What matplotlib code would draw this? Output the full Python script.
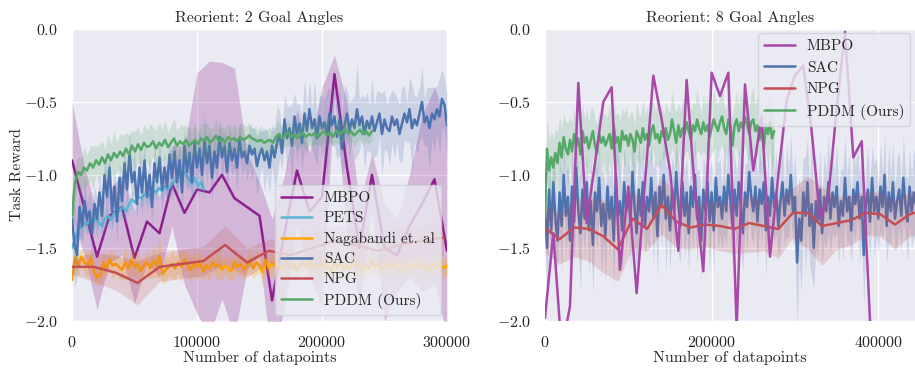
import numpy as np
import matplotlib
matplotlib.use("Agg")
import matplotlib.pyplot as plt
import seaborn as sns

sns.set_theme(style="darkgrid")
plt.rcParams['font.family'] = ['serif']
plt.rcParams['font.serif'] = ['cmr10', 'DejaVu Serif']
plt.rcParams['mathtext.fontset'] = 'cm'
plt.rcParams['axes.formatter.use_mathtext'] = True

# ---------------- Left panel: Reorient 2 goal angles ----------------
L_mbpo_step = 10000
L_mbpo = [-0.90, -1.23, -1.56, -1.28, -1.22, -1.57, -1.32, -1.40, -1.06, -1.26,
          -1.10, -1.12, -1.00, -1.16, -1.22, -1.28, -1.86, -1.40, -0.97, -1.25,
          -1.15, -0.31, -0.95, -1.50, -1.00, -1.50, -1.55, -1.35, -1.20, -1.03, -1.52]
L_mbpo_hi = [-0.50, -0.95, -1.25, -1.10, -1.00, -1.25, -1.05, -1.15, -0.80, -0.80,
             -0.30, -0.22, -0.23, -0.27, -0.85, -1.05, -1.30, -1.00, -0.55, -0.85,
             -0.40, -0.18, -0.50, -1.20, -0.85, -1.20, -1.30, -1.00, -0.60, -0.40, -0.65]
L_mbpo_lo = [-1.30, -1.55, -1.92, -1.60, -1.55, -1.88, -1.60, -1.70, -1.35, -1.75,
             -1.95, -2.10, -1.85, -2.10, -1.65, -1.55, -2.30, -1.90, -1.35, -1.70,
             -1.90, -0.45, -1.40, -1.90, -1.25, -2.00, -1.80, -1.70, -1.80, -1.75, -2.10]

L_pets_step = 2400
L_pets = [-1.50, -1.44, -1.38, -1.36, -1.33, -1.34, -1.30, -1.32, -1.29, -1.33,
          -1.35, -1.30, -1.28, -1.31, -1.26, -1.27, -1.24, -1.22, -1.25, -1.20,
          -1.17, -1.19, -1.15, -1.16, -1.14, -1.12, -1.15, -1.10, -1.12, -1.09,
          -1.11, -1.08, -1.10, -1.07, -1.05, -1.02, -0.99, -0.97, -1.00, -1.03,
          -1.06, -1.02, -1.08, -1.05, -1.10]
L_pets_std = [0.08, 0.07, 0.06, 0.08, 0.05, 0.07, 0.06, 0.09, 0.05, 0.07,
              0.06, 0.08, 0.05, 0.07, 0.06, 0.05, 0.07, 0.06, 0.08, 0.05,
              0.06, 0.07, 0.05, 0.06, 0.08, 0.05, 0.06, 0.07, 0.05, 0.06,
              0.07, 0.05, 0.06, 0.08, 0.05, 0.07, 0.06, 0.09, 0.07, 0.06,
              0.08, 0.06, 0.07, 0.05, 0.06]

L_naga_step = 2500
L_naga = [-1.72, -1.56, -1.62, -1.56, -1.60, -1.62, -1.57, -1.66, -1.70, -1.69,
          -1.60, -1.64, -1.58, -1.62, -1.61, -1.63, -1.65, -1.60, -1.64, -1.58,
          -1.63, -1.61, -1.66, -1.62, -1.60, -1.64, -1.59, -1.62, -1.56, -1.68,
          -1.65, -1.63, -1.61, -1.64, -1.60, -1.63, -1.58, -1.62, -1.65, -1.61,
          -1.63, -1.60, -1.66, -1.62, -1.64, -1.60, -1.63, -1.61, -1.65, -1.62,
          -1.64, -1.66, -1.60, -1.63, -1.61, -1.65, -1.62, -1.59, -1.64, -1.60,
          -1.62, -1.67, -1.58, -1.64, -1.60, -1.63, -1.61, -1.65, -1.62, -1.60,
          -1.64, -1.61, -1.66, -1.62, -1.60, -1.63, -1.59, -1.65, -1.61, -1.63,
          -1.60, -1.64, -1.62, -1.66, -1.61, -1.63, -1.60, -1.65, -1.62, -1.64,
          -1.60, -1.63, -1.61, -1.66, -1.62, -1.64, -1.59, -1.63, -1.61, -1.65,
          -1.62, -1.60, -1.64, -1.61, -1.63, -1.66, -1.60, -1.62, -1.65, -1.61,
          -1.63, -1.60, -1.64, -1.62, -1.66, -1.61, -1.63, -1.60, -1.62, -1.64, -1.62]
L_naga_std = [0.06, 0.05, 0.08, 0.06, 0.07, 0.09, 0.06, 0.08, 0.05, 0.07,
              0.08, 0.06, 0.07, 0.10, 0.06, 0.08, 0.07, 0.12, 0.06, 0.09,
              0.07, 0.10, 0.08, 0.06, 0.09, 0.07, 0.11, 0.08, 0.13, 0.07,
              0.09, 0.06, 0.10, 0.08, 0.07, 0.11, 0.06, 0.09, 0.08, 0.07,
              0.10, 0.06, 0.08, 0.07, 0.09, 0.06, 0.08, 0.10, 0.07, 0.06,
              0.08, 0.07, 0.09, 0.06, 0.08, 0.07, 0.06, 0.09, 0.07, 0.08,
              0.06, 0.08, 0.07, 0.06, 0.09, 0.07, 0.08, 0.06, 0.07, 0.09,
              0.07, 0.06, 0.08, 0.07, 0.06, 0.08, 0.07, 0.09, 0.06, 0.07,
              0.08, 0.06, 0.07, 0.09, 0.06, 0.08, 0.07, 0.06, 0.08, 0.07,
              0.06, 0.08, 0.07, 0.06, 0.09, 0.07, 0.08, 0.06, 0.07, 0.08,
              0.07, 0.06, 0.08, 0.07, 0.09, 0.06, 0.07, 0.08, 0.06, 0.07,
              0.08, 0.06, 0.07, 0.09, 0.06, 0.08, 0.07, 0.06, 0.08, 0.07, 0.06]

L_sac_step = 2000
L_sac = [-1.30, -1.48, -1.55, -1.22, -1.35, -1.18, -1.30, -1.25, -1.40, -1.20,
         -1.30, -1.12, -1.28, -1.00, -1.15, -0.95, -1.25, -1.08, -1.32, -1.02,
         -1.18, -0.92, -1.10, -0.85, -1.05, -0.98, -1.20, -0.95, -1.12, -0.90,
         -1.15, -1.00, -1.22, -0.92, -1.05, -0.88, -1.10, -0.95, -1.08, -0.86,
         -1.02, -0.84, -1.05, -0.90, -1.12, -0.80, -0.98, -0.85, -1.05, -0.78,
         -0.95, -0.82, -1.00, -0.76, -0.92, -0.80, -1.02, -0.84, -0.95, -0.74,
         -0.88, -0.80, -0.98, -0.78, -0.90, -0.82, -0.95, -0.76, -0.88, -0.84,
         -0.92, -0.80, -0.86, -0.82, -0.94, -0.86, -0.82, -0.90, -0.84, -0.95,
         -0.80, -0.88, -0.78, -0.72, -0.85, -0.62, -0.75, -0.68, -0.80, -0.60,
         -0.72, -0.65, -0.78, -0.58, -0.70, -0.55, -0.68, -0.62, -0.75, -0.60,
         -0.68, -0.64, -0.72, -0.58, -0.66, -0.60, -0.74, -0.62, -0.82, -0.66,
         -0.58, -0.70, -0.62, -0.68, -0.55, -0.66, -0.60, -0.72, -0.63, -0.68,
         -0.60, -0.70, -0.64, -0.58, -0.72, -0.62, -0.68, -0.70, -0.60, -0.66,
         -0.62, -0.72, -0.65, -0.58, -0.64, -0.55, -0.68, -0.62, -0.66, -0.58,
         -0.50, -0.64, -0.60, -0.68, -0.58, -0.62, -0.55, -0.60, -0.48, -0.52,
         -0.66]
L_sac_std = [0.20, 0.30, 0.15, 0.18, 0.12, 0.16, 0.10, 0.14, 0.18, 0.12,
             0.15, 0.10, 0.14, 0.12, 0.18, 0.10, 0.15, 0.12, 0.16, 0.10,
             0.14, 0.12, 0.10, 0.16, 0.12, 0.15, 0.10, 0.13, 0.18, 0.12,
             0.10, 0.14, 0.12, 0.16, 0.10, 0.12, 0.15, 0.11, 0.14, 0.12,
             0.16, 0.12, 0.14, 0.10, 0.18, 0.12, 0.15, 0.20, 0.12, 0.14,
             0.10, 0.15, 0.12, 0.18, 0.14, 0.12, 0.16, 0.10, 0.14, 0.12,
             0.15, 0.10, 0.12, 0.14, 0.10, 0.13, 0.16, 0.12, 0.14, 0.10,
             0.12, 0.15, 0.18, 0.14, 0.20, 0.16, 0.12, 0.22, 0.15, 0.18,
             0.14, 0.20, 0.25, 0.16, 0.12, 0.18, 0.22, 0.15, 0.28, 0.16,
             0.20, 0.14, 0.18, 0.24, 0.16, 0.20, 0.14, 0.26, 0.18, 0.15,
             0.22, 0.16, 0.30, 0.18, 0.14, 0.20, 0.16, 0.24, 0.18, 0.28,
             0.16, 0.20, 0.14, 0.22, 0.32, 0.18, 0.15, 0.24, 0.20, 0.16,
             0.26, 0.18, 0.22, 0.15, 0.28, 0.20, 0.16, 0.24, 0.18, 0.22,
             0.15, 0.20, 0.26, 0.18, 0.14, 0.22, 0.30, 0.16, 0.20, 0.18,
             0.24, 0.16, 0.20, 0.28, 0.18, 0.22, 0.16, 0.26, 0.20, 0.18,
             0.22]

L_npg_step = 17500
L_npg = [-1.63, -1.63, -1.67, -1.74, -1.63, -1.61, -1.59, -1.48, -1.60, -1.52,
         -1.55, -1.50, -1.45, -1.48, -1.52, -1.48, -1.45, -1.43]
L_npg_std = [0.05, 0.10, 0.12, 0.15, 0.10, 0.10, 0.10, 0.13, 0.10, 0.08,
             0.10, 0.12, 0.10, 0.12, 0.10, 0.12, 0.10, 0.12]

L_pddm_step = 2400
L_pddm = [-1.28, -1.05, -0.98, -1.00, -0.95, -0.97, -0.92, -0.95, -0.90, -0.93,
          -0.88, -0.92, -0.86, -0.90, -0.85, -0.88, -0.84, -0.87, -0.82, -0.86,
          -0.80, -0.84, -0.79, -0.83, -0.78, -0.81, -0.80, -0.77, -0.82, -0.78,
          -0.80, -0.76, -0.81, -0.78, -0.75, -0.80, -0.77, -0.79, -0.76, -0.80,
          -0.78, -0.76, -0.79, -0.75, -0.77, -0.74, -0.78, -0.76, -0.73, -0.77,
          -0.75, -0.78, -0.74, -0.76, -0.75, -0.77, -0.74, -0.76, -0.75, -0.73,
          -0.75, -0.76, -0.77, -0.76, -0.78, -0.77, -0.76, -0.78, -0.74, -0.72,
          -0.75, -0.73, -0.71, -0.74, -0.72, -0.75, -0.73, -0.71, -0.74, -0.72,
          -0.73, -0.71, -0.74, -0.72, -0.70, -0.73, -0.71, -0.74, -0.70, -0.72,
          -0.71, -0.68, -0.72, -0.70, -0.73, -0.71, -0.69, -0.72, -0.70, -0.73,
          -0.70]
L_pddm_std = [0.15, 0.12, 0.10, 0.12, 0.14, 0.10, 0.12, 0.15, 0.10, 0.13,
              0.12, 0.10, 0.14, 0.11, 0.15, 0.10, 0.12, 0.14, 0.11, 0.13,
              0.10, 0.14, 0.12, 0.10, 0.13, 0.11, 0.15, 0.10, 0.12, 0.14,
              0.11, 0.13, 0.10, 0.12, 0.14, 0.10, 0.11, 0.13, 0.10, 0.12,
              0.09, 0.11, 0.08, 0.10, 0.12, 0.09, 0.10, 0.08, 0.11, 0.09,
              0.08, 0.10, 0.09, 0.07, 0.10, 0.08, 0.09, 0.11, 0.08, 0.09,
              0.07, 0.09, 0.08, 0.10, 0.07, 0.08, 0.09, 0.07, 0.08, 0.09,
              0.08, 0.07, 0.09, 0.08, 0.06, 0.08, 0.07, 0.09, 0.07, 0.08,
              0.07, 0.08, 0.06, 0.08, 0.07, 0.09, 0.07, 0.06, 0.08, 0.07,
              0.06, 0.08, 0.07, 0.06, 0.08, 0.07, 0.06, 0.08, 0.07, 0.06,
              0.06]

# ---------------- Right panel: Reorient 8 goal angles ----------------
R_mbpo_step = 10000
R_mbpo = [-1.98, -1.40, -2.20, -1.90, -0.37, -1.33, -0.92, -0.50, -0.40, -1.65,
          -1.08, -1.81, -1.05, -0.32, -0.62, -0.97, -1.52, -0.35, -1.12, -1.66,
          -0.30, -0.46, -0.30, -2.05, -0.38, -0.97, -0.60, -1.56, -1.00, -0.49,
          -0.32, -0.25, -0.70, -1.30, -1.15, -0.55, -0.02, -0.88, -0.77, -2.00]

R_sac_step = 2500
R_sac = [-1.25, -1.50, -1.10, -1.38, -1.05, -1.30, -1.45, -1.12, -1.35, -1.00,
         -1.28, -1.15, -1.45, -1.08, -1.32, -0.95, -1.25, -1.40, -1.10, -1.30,
         -1.05, -1.38, -1.18, -1.48, -1.12, -1.25, -1.02, -1.35, -1.20, -1.42,
         -1.08, -1.30, -1.15, -1.45, -1.00, -1.28, -1.18, -1.38, -1.05, -1.25,
         -1.12, -1.32, -0.98, -1.22, -1.40, -1.10, -1.28, -1.05, -1.35, -1.15,
         -1.25, -1.02, -1.30, -1.12, -1.42, -1.08, -1.22, -1.00, -1.30, -1.15,
         -1.38, -1.10, -1.25, -0.98, -1.20, -1.35, -1.05, -1.28, -1.12, -1.40,
         -1.08, -1.22, -1.00, -1.30, -1.15, -1.45, -1.10, -1.25, -1.05, -1.32,
         -1.12, -1.38, -1.02, -1.22, -1.15, -1.30, -1.08, -1.25, -1.00, -1.18,
         -1.35, -1.10, -1.28, -1.05, -1.20, -1.40, -1.12, -1.22, -0.98, -1.15,
         -1.25, -1.08, -1.32, -1.10, -1.20, -1.05, -1.38, -1.15, -1.28, -1.02,
         -1.22, -1.12, -1.35, -1.18, -1.05, -1.28, -1.10, -1.20, -1.00, -1.25,
         -1.15, -1.60, -1.30, -1.45, -1.12, -1.28, -1.05, -1.35, -1.20, -1.50,
         -1.18, -1.32, -1.10, -1.40, -1.15, -1.25, -1.05, -1.30, -1.12, -1.22,
         -1.08, -1.35, -1.18, -1.28, -1.02, -1.25, -1.15, -1.38, -1.10, -1.20,
         -1.05, -1.30, -1.15, -1.55, -1.20, -1.10, -1.32, -1.02, -1.25, -1.15,
         -1.30, -1.08, -1.22, -1.00, -1.35, -1.12, -1.25, -1.05, -1.30, -1.18,
         -1.10, -1.28, -1.02, -1.20, -1.32, -1.08, -1.25, -1.12, -1.20]
R_sac_std = [0.25, 0.35, 0.20, 0.28, 0.22, 0.30, 0.18, 0.26, 0.32, 0.20,
             0.28, 0.22, 0.35, 0.24, 0.30, 0.20, 0.26, 0.40, 0.22, 0.28,
             0.20, 0.30, 0.25, 0.33, 0.22, 0.28, 0.20, 0.36, 0.24, 0.30,
             0.22, 0.28, 0.20, 0.32, 0.26, 0.45, 0.22, 0.30, 0.24, 0.28,
             0.20, 0.34, 0.26, 0.30, 0.22, 0.42, 0.24, 0.28, 0.20, 0.30,
             0.26, 0.22, 0.32, 0.24, 0.28, 0.20, 0.30, 0.25, 0.36, 0.22,
             0.28, 0.24, 0.30, 0.20, 0.34, 0.26, 0.22, 0.30, 0.24, 0.28,
             0.22, 0.30, 0.26, 0.32, 0.20, 0.28, 0.24, 0.30, 0.22, 0.35,
             0.24, 0.28, 0.20, 0.30, 0.26, 0.22, 0.32, 0.24, 0.28, 0.20,
             0.30, 0.24, 0.28, 0.22, 0.32, 0.26, 0.20, 0.30, 0.24, 0.28,
             0.22, 0.26, 0.30, 0.24, 0.28, 0.20, 0.32, 0.26, 0.22, 0.30,
             0.24, 0.28, 0.22, 0.30, 0.26, 0.20, 0.32, 0.24, 0.28, 0.22,
             0.30, 0.45, 0.28, 0.35, 0.24, 0.40, 0.30, 0.26, 0.50, 0.28,
             0.32, 0.24, 0.28, 0.22, 0.30, 0.26, 0.34, 0.24, 0.28, 0.22,
             0.30, 0.26, 0.22, 0.32, 0.28, 0.24, 0.30, 0.22, 0.28, 0.26,
             0.24, 0.30, 0.28, 0.35, 0.24, 0.30, 0.26, 0.22, 0.32, 0.28,
             0.24, 0.30, 0.22, 0.28, 0.26, 0.32, 0.24, 0.28, 0.22, 0.30,
             0.26, 0.24, 0.30, 0.22, 0.28, 0.26, 0.24, 0.30, 0.26]

R_npg_step = 17500
R_npg = [-1.365, -1.44, -1.36, -1.37, -1.42, -1.51, -1.30, -1.37, -1.205, -1.32,
         -1.36, -1.34, -1.35, -1.37, -1.33, -1.35, -1.37, -1.26, -1.26, -1.35,
         -1.33, -1.31, -1.26, -1.27, -1.34, -1.27, -1.24]
R_npg_std = [0.17, 0.17, 0.20, 0.22, 0.25, 0.22, 0.20, 0.15, 0.20, 0.18,
             0.15, 0.15, 0.17, 0.17, 0.20, 0.17, 0.20, 0.17, 0.25, 0.27,
             0.18, 0.17, 0.15, 0.15, 0.17, 0.15, 0.15]

R_pddm_step = 2500
R_pddm = [-1.28, -0.82, -0.97, -0.88, -0.95, -0.85, -0.92, -0.78, -0.88, -0.74,
          -0.82, -0.86, -0.76, -0.84, -0.72, -0.80, -0.75, -0.86, -0.70, -0.78,
          -0.74, -0.82, -0.76, -0.70, -0.80, -0.85, -0.72, -0.78, -0.74, -0.80,
          -0.76, -0.72, -0.82, -0.66, -0.78, -0.74, -0.84, -0.70, -0.76, -0.73,
          -0.80, -0.72, -0.76, -0.84, -0.70, -0.74, -0.78, -0.68, -0.76, -0.72,
          -0.80, -0.70, -0.66, -0.75, -0.72, -0.78, -0.70, -0.74, -0.68, -0.76,
          -0.72, -0.62, -0.70, -0.78, -0.66, -0.74, -0.68, -0.72, -0.64, -0.70,
          -0.76, -0.66, -0.70, -0.62, -0.68, -0.72, -0.64, -0.70, -0.66, -0.74,
          -0.68, -0.62, -0.66, -0.70, -0.64, -0.60, -0.68, -0.72, -0.62, -0.66,
          -0.80, -0.66, -0.62, -0.70, -0.64, -0.68, -0.60, -0.66, -0.72, -0.64,
          -0.62, -0.70, -0.66, -0.76, -0.68, -0.82, -0.66, -0.72, -0.64, -0.75,
          -0.70]
R_pddm_std = [0.25, 0.20, 0.22, 0.18, 0.20, 0.16, 0.22, 0.18, 0.20, 0.16,
              0.18, 0.22, 0.16, 0.20, 0.18, 0.15, 0.21, 0.17, 0.19, 0.16,
              0.20, 0.17, 0.22, 0.16, 0.18, 0.20, 0.15, 0.19, 0.17, 0.21,
              0.16, 0.20, 0.18, 0.15, 0.19, 0.17, 0.21, 0.16, 0.18, 0.20,
              0.17, 0.15, 0.19, 0.18, 0.21, 0.16, 0.18, 0.20, 0.15, 0.19,
              0.17, 0.20, 0.16, 0.18, 0.22, 0.17, 0.19, 0.15, 0.18, 0.20,
              0.16, 0.19, 0.17, 0.21, 0.15, 0.18, 0.20, 0.16, 0.19, 0.17,
              0.20, 0.16, 0.18, 0.21, 0.17, 0.15, 0.19, 0.18, 0.20, 0.16,
              0.18, 0.21, 0.16, 0.19, 0.17, 0.20, 0.15, 0.18, 0.22, 0.17,
              0.19, 0.16, 0.20, 0.18, 0.21, 0.17, 0.19, 0.22, 0.18, 0.20,
              0.22, 0.18, 0.20, 0.24, 0.19, 0.21, 0.18, 0.23, 0.20, 0.22,
              0.20]

titles = ["Reorient: 2 Goal Angles", "Reorient: 8 Goal Angles"]
xlabel = "Number of datapoints"
ylabel = "Task Reward"

C_MBPO = '#8E1F8E'
C_MBPO_R = '#A848A8'
C_PETS = '#5BB5D5'
C_NAGA = '#FFA500'
C_SAC = '#4C72B0'
C_NPG = '#C44E52'
C_PDDM = '#55A868'

FS = 11.5
LW = 1.8


def xs(vals, step):
    return np.arange(len(vals)) * step


def band(ax, vals, std, step, color, label, alpha=0.2, lw=LW, zorder=2):
    x = xs(vals, step)
    m = np.array(vals)
    s = np.array(std)
    ax.fill_between(x, m - s, m + s, color=color, alpha=alpha, lw=0, zorder=zorder)
    ax.plot(x, m, color=color, lw=lw, label=label, zorder=zorder + 0.1)


fig = plt.figure(figsize=(9.15, 3.68), dpi=100)
ax1 = fig.add_axes([0.0787, 0.128, 0.4098, 0.7935])
ax2 = fig.add_axes([0.5956, 0.128, 0.4044, 0.7935])

# left
xm = xs(L_mbpo, L_mbpo_step)
ax1.fill_between(xm, L_mbpo_lo, L_mbpo_hi, color=C_MBPO, alpha=0.25, lw=0, zorder=2)
ax1.plot(xm, L_mbpo, color=C_MBPO, lw=LW, label='MBPO', zorder=2.1)
band(ax1, L_pets, L_pets_std, L_pets_step, C_PETS, 'PETS', zorder=3)
band(ax1, L_naga, L_naga_std, L_naga_step, C_NAGA, 'Nagabandi et. al', alpha=0.25, zorder=4)
band(ax1, L_sac, L_sac_std, L_sac_step, C_SAC, 'SAC', zorder=5)
band(ax1, L_npg, L_npg_std, L_npg_step, C_NPG, 'NPG', zorder=6)
band(ax1, L_pddm, L_pddm_std, L_pddm_step, C_PDDM, 'PDDM (Ours)', zorder=7)

ax1.set_xlim(0, 300000)
ax1.set_ylim(-2.0, 0.0)
ax1.set_xticks([0, 100000, 200000, 300000])
ax1.set_yticks([0.0, -0.5, -1.0, -1.5, -2.0])
ax1.set_title(titles[0], fontsize=FS, pad=5)
ax1.set_xlabel(xlabel, fontsize=FS, labelpad=1)
ax1.set_ylabel(ylabel, fontsize=FS, labelpad=0)
leg1 = ax1.legend(loc='lower right', fontsize=FS - 0.5, framealpha=0.8, edgecolor='#d0d0d8',
                  borderaxespad=0.4, handlelength=2.0, labelspacing=0.42)
leg1.set_zorder(20)

# right
band(ax2, R_sac, R_sac_std, R_sac_step, C_SAC, 'SAC', zorder=3)
band(ax2, R_npg, R_npg_std, R_npg_step, C_NPG, 'NPG', zorder=4)
band(ax2, R_pddm, R_pddm_std, R_pddm_step, C_PDDM, 'PDDM (Ours)', zorder=5)
ax2.plot(xs(R_mbpo, R_mbpo_step), R_mbpo, color=C_MBPO_R, lw=LW, label='MBPO', zorder=6)
ax2.set_xlim(0, 444000)
ax2.set_ylim(-2.0, 0.0)
ax2.set_xticks([0, 200000, 400000])
ax2.set_yticks([0.0, -0.5, -1.0, -1.5, -2.0])
ax2.set_title(titles[1], fontsize=FS, pad=5)
ax2.set_xlabel(xlabel, fontsize=FS, labelpad=1)
h, l = ax2.get_legend_handles_labels()
order = [l.index(n) for n in ['MBPO', 'SAC', 'NPG', 'PDDM (Ours)']]
leg2 = ax2.legend([h[i] for i in order], [l[i] for i in order], loc='upper right',
                  fontsize=FS - 0.5, framealpha=0.8, edgecolor='#d0d0d8', borderaxespad=0.3,
                  handlelength=2.0, labelspacing=0.5)
leg2.set_zorder(20)

for ax in (ax1, ax2):
    ax.tick_params(labelsize=FS, pad=4)
    for sp in ax.spines.values():
        sp.set_visible(False)

fig.savefig('out.png', dpi=100)
